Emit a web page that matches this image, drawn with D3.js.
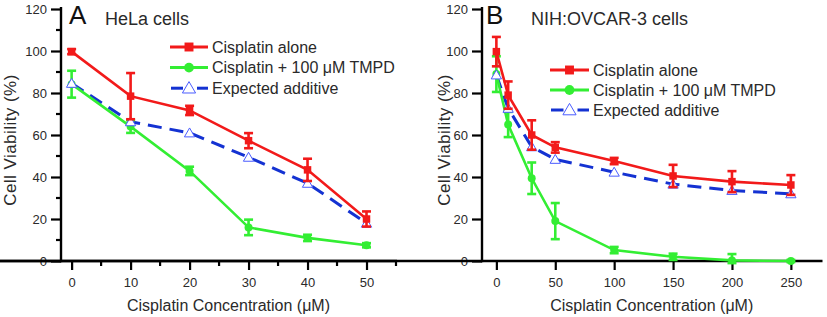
<!DOCTYPE html>
<html><head><meta charset="utf-8">
<script src="https://cdn.jsdelivr.net/npm/d3@7"></script>
<style>
html,body{margin:0;padding:0;background:#fff;}
svg{display:block;font-family:"Liberation Sans",Arial,Helvetica,sans-serif;}
</style></head>
<body><svg id="c" width="827" height="317"></svg>
<script>
// ---------- data ----------
const seriesNames = ["Cisplatin alone", "Cisplatin + 100 \u03bcM TMPD", "Expected additive"];
const yTicks = [0, 20, 40, 60, 80, 100, 120];
const yMinorA = [10, 30, 50, 70, 90, 110];

const concA = [0, 10, 20, 30, 40, 50];
const aloneA = [99.7, 78.5, 71.7, 57.3, 43.4, 20];
const aloneErrA = [1.2, 11, 2.2, 3.6, 5.3, 3.6];
const tmpdA = [84.2, 64, 42.9, 16, 11, 7.5];
const tmpdErrA = [6.4, 3, 2, 3.7, 1.5, 1];
const addA = [84.6, 66.3, 61, 49.4, 37, 18];
const xTicksA = [0, 10, 20, 30, 40, 50];
const xMinorA = [5, 15, 25, 35, 45, 55];

const concB = [0, 10, 30, 50, 100, 150, 200, 250];
const aloneB = [99.7, 79, 60, 54.1, 47.6, 40.5, 37.8, 36.2];
const aloneErrB = [7, 6.5, 7, 2.5, 1.5, 5.3, 5, 4.7];
const tmpdB = [89, 65, 39.4, 19, 5.2, 2, 0.3, 0];
const tmpdErrB = [8.5, 6, 7.5, 8.6, 1.5, 1.5, 3, 0.5];
const addB = [88.6, 72.7, 54.4, 48.4, 42.3, 36.6, 33.6, 32];
const xTicksB = [0, 50, 100, 150, 200, 250];

const colors = {red: "#f21a1a", green: "#33ee33", blue: "#1432d2", tri: "#4a5cff"};
const textCol = "#2a2a2a";

const svg = d3.select("#c");

function panel(o) {
  const g = svg.append("g");
  const x = d3.scaleLinear().domain(o.xDomain).range(o.xRange);
  const y = d3.scaleLinear().domain([0, 120]).range([261, 9]);
  const x0 = o.xRange[0], y0 = 261;

  // axes
  const ya = g.append("g").attr("transform", `translate(${x0},0)`)
    .call(d3.axisLeft(y).tickValues(yTicks).tickSize(10).tickPadding(4).tickSizeOuter(0));
  const xa = g.append("g").attr("transform", `translate(0,${y0})`)
    .call(d3.axisBottom(x).tickValues(o.xTicks).tickSize(9).tickPadding(8).tickSizeOuter(0));
  [ya, xa].forEach(a => {
    a.select(".domain").attr("stroke", "#000").attr("stroke-width", 2.4);
    a.selectAll(".tick line").attr("stroke", "#000").attr("stroke-width", 2.2);
    a.selectAll(".tick text").attr("fill", textCol).style("font-size", "13px")
      .style("font-family", '"Liberation Sans",Arial,sans-serif');
  });
  ya.select(".domain").attr("d", `M0,${y(120) - 2}V${y0 + 1.2}`);
  xa.select(".domain").attr("d", `M${-1.2},0H${x(o.xDomain[1]) + 1}`);
  if (o.yMinor) {
    g.append("g").selectAll("line").data(o.yMinor).join("line")
      .attr("x1", x0 - 5).attr("x2", x0).attr("y1", d => y(d)).attr("y2", d => y(d))
      .attr("stroke", "#000").attr("stroke-width", 2.2);
  }
  if (o.xMinor) {
    g.append("g").selectAll("line").data(o.xMinor).join("line")
      .attr("x1", d => x(d)).attr("x2", d => x(d)).attr("y1", y0).attr("y2", y0 + 5)
      .attr("stroke", "#000").attr("stroke-width", 2.2);
  }

  // axis titles
  g.append("text").attr("transform", `translate(${o.yLabelX},140) rotate(-90)`)
    .attr("text-anchor", "middle").attr("fill", textCol).style("font-size", "17px")
    .style("letter-spacing", "0.45px").text("Cell Viability (%)");
  g.append("text").attr("x", (o.xRange[0] + o.xRange[1]) / 2).attr("y", 311)
    .attr("text-anchor", "middle").attr("fill", textCol).style("font-size", "16px")
    .text("Cisplatin Concentration (\u03bcM)");

  // panel titles
  g.append("text").attr("x", o.letterX).attr("y", 24).attr("fill", "#111")
    .style("font-size", "26px").text(o.letter);
  g.append("text").attr("x", o.titleX).attr("y", 25).attr("fill", textCol)
    .style("font-size", "18px").text(o.title);

  const line = d3.line().x(d => x(d[0])).y(d => y(d[1]));

  // expected additive (dashed)
  const addPts = o.conc.map((c, i) => [c, o.add[i]]);
  g.append("path").attr("d", line(addPts)).attr("fill", "none")
    .attr("stroke", colors.blue).attr("stroke-width", 3).attr("stroke-dasharray", "14,8");

  const drawSeries = (vals, errs, col, shape) => {
    const pts = o.conc.map((c, i) => [c, vals[i]]);
    g.append("path").attr("d", line(pts)).attr("fill", "none")
      .attr("stroke", col).attr("stroke-width", 2.6);
    const eb = g.append("g").attr("stroke", col).attr("stroke-width", 2.6);
    o.conc.forEach((c, i) => {
      const cx = x(c), t = y(vals[i] + errs[i]), b = y(Math.max(vals[i] - errs[i], -1));
      eb.append("line").attr("x1", cx).attr("x2", cx).attr("y1", t).attr("y2", b);
      eb.append("line").attr("x1", cx - 4.5).attr("x2", cx + 4.5).attr("y1", t).attr("y2", t);
      eb.append("line").attr("x1", cx - 4.5).attr("x2", cx + 4.5).attr("y1", b).attr("y2", b);
    });
    g.append("g").selectAll("path").data(pts).join("path")
      .attr("transform", d => `translate(${x(d[0])},${y(d[1])})`)
      .attr("d", d3.symbol().type(shape).size(shape === d3.symbolSquare ? 56 : 50))
      .attr("fill", col);
  };
  drawSeries(o.tmpd, o.tmpdErr, colors.green, d3.symbolCircle);

  // triangles (above green, below red)
  g.append("g").selectAll("path").data(addPts).join("path")
    .attr("transform", d => `translate(${x(d[0])},${y(d[1]) + 1})`)
    .attr("d", d3.symbol().type(d3.symbolTriangle).size(46))
    .attr("fill", "#fff").attr("stroke", colors.tri).attr("stroke-width", 1);

  drawSeries(o.alone, o.aloneErr, colors.red, d3.symbolSquare);

  // legend
  const L = o.legend;
  const lg = g.append("g");
  const rows = [
    {name: seriesNames[0], col: colors.red, shape: d3.symbolSquare},
    {name: seriesNames[1], col: colors.green, shape: d3.symbolCircle},
    {name: seriesNames[2], col: colors.blue, shape: d3.symbolTriangle}
  ];
  rows.forEach((r, i) => {
    const yy = L.y + i * L.dy;
    const mx = (L.x1 + L.x2) / 2;
    if (i < 2) {
      lg.append("line").attr("x1", L.x1).attr("x2", L.x2).attr("y1", yy).attr("y2", yy)
        .attr("stroke", r.col).attr("stroke-width", 3);
      lg.append("path").attr("transform", `translate(${mx},${yy})`)
        .attr("d", d3.symbol().type(r.shape).size(r.shape === d3.symbolSquare ? 80 : 75))
        .attr("fill", r.col);
    } else {
      lg.append("line").attr("x1", L.x1 + 1).attr("x2", mx - 6).attr("y1", yy).attr("y2", yy)
        .attr("stroke", r.col).attr("stroke-width", 3);
      lg.append("line").attr("x1", mx + 8).attr("x2", L.x2).attr("y1", yy).attr("y2", yy)
        .attr("stroke", r.col).attr("stroke-width", 3);
      lg.append("path").attr("transform", `translate(${mx},${yy + 1})`)
        .attr("d", d3.symbol().type(d3.symbolTriangle).size(75))
        .attr("fill", "#fff").attr("stroke", colors.tri).attr("stroke-width", 1);
    }
    lg.append("text").attr("x", L.x2 + 4).attr("y", yy + 5.5).attr("fill", textCol)
      .style("font-size", "16px").text(r.name);
  });
}

panel({
  xDomain: [-1.8, 55], xRange: [61, 396],
  xTicks: xTicksA, xMinor: xMinorA, yMinor: yMinorA,
  conc: concA, alone: aloneA, aloneErr: aloneErrA, tmpd: tmpdA, tmpdErr: tmpdErrA, add: addA,
  letter: "A", letterX: 69, title: "HeLa cells", titleX: 105, yLabelX: 15.5,
  legend: {x1: 170, x2: 208, y: 47, dy: 20.6}
});
panel({
  xDomain: [-12.2, 276], xRange: [482, 821.5],
  xTicks: xTicksB,
  conc: concB, alone: aloneB, aloneErr: aloneErrB, tmpd: tmpdB, tmpdErr: tmpdErrB, add: addB,
  letter: "B", letterX: 486, title: "NIH:OVCAR-3 cells", titleX: 531, yLabelX: 450,
  legend: {x1: 550, x2: 589, y: 70, dy: 20}
});
</script></body></html>
